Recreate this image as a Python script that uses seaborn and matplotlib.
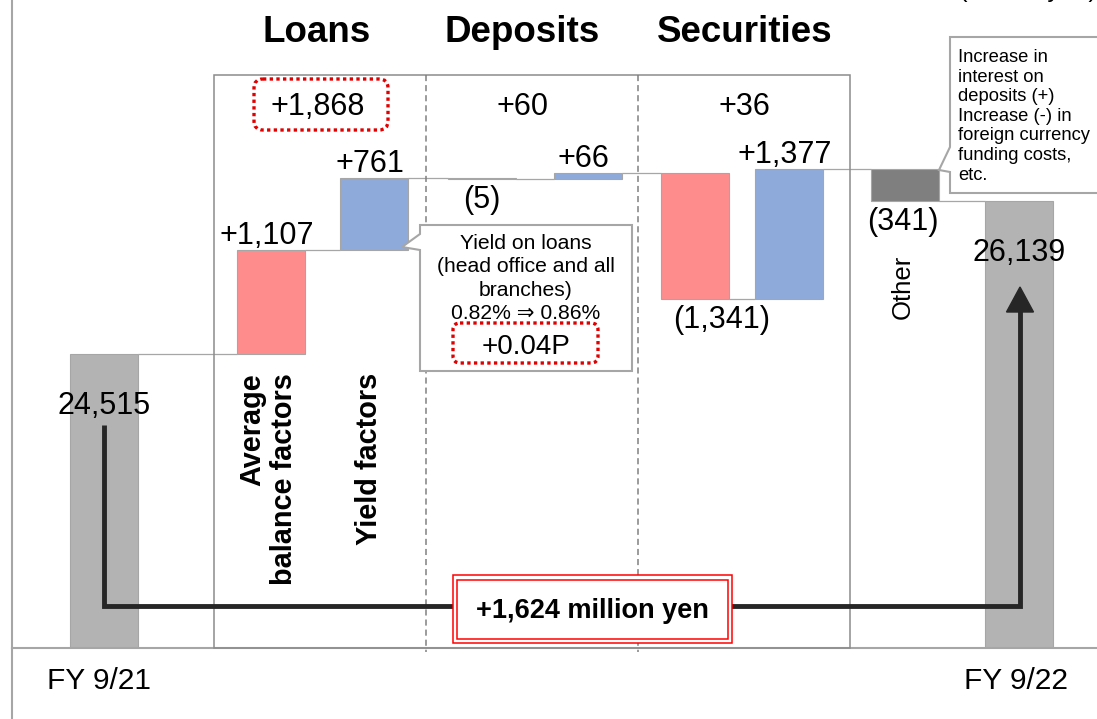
import matplotlib
matplotlib.use("Agg")
import matplotlib.pyplot as plt
from matplotlib.patches import FancyBboxPatch, Rectangle, Polygon
from matplotlib.patches import BoxStyle
from matplotlib.transforms import ScaledTranslation
import seaborn as sns

# ---- data (million yen) ----
groups = ["FY 9/21", "Loans", "Loans", "Deposits", "Deposits",
          "Securities", "Securities", "Other", "FY 9/22"]
factors = ["Total", "Average balance", "Yield", "Average balance", "Yield",
           "Average balance", "Yield", "Other", "Total"]
amounts = [24515, 1107, 761, -5, 66, -1341, 1377, -341, 26139]

sections = ["Loans", "Deposits", "Securities"]
section_totals = [1868, 60, 36]
total_change = 1624
loan_yield_before = 0.82
loan_yield_after = 0.86
yield_change_pt = 0.04

other_note = ["Increase in", "interest on", "deposits (+)", "Increase (-) in",
              "foreign currency", "funding costs,", "etc."]

# ---- styling / layout ----
sns.set_theme(style="white")
plt.rcParams["font.family"] = ["Liberation Sans", "DejaVu Sans"]
plt.rcParams["text.color"] = "black"
plt.rcParams["xtick.color"] = "black"

W, H = 1097, 719
BASE_PX = 648            # pixel row of the baseline
PX_PER_UNIT = 0.094      # vertical pixels per million yen
Y_FLOOR = 21387          # value sitting on the baseline (truncated axis)
bar_px = [104, 271, 373.5, 481.5, 587.5, 695, 788.5, 905, 1019]
BAR_W = 68
label_dx = [0, -4, -4, 0, -4, 27, -4, -2, 0]

palette = {"Total": "#B3B3B3", "Average balance": "#FF8C8C",
           "Yield": "#8EAADB", "Other": "#7F7F7F"}
EDGE = "#A6A6A6"
LINE_GRAY = "#A6A6A6"
FRAME_GRAY = "#8C8C8C"
RED = "#E00000"

fig = plt.figure(figsize=(W / 100, H / 100), dpi=100)
ax = fig.add_axes([12 / W, (H - BASE_PX) / H, (W - 12) / W, BASE_PX / H])

# ---- waterfall geometry from the amounts ----
bottoms, heights, levels = [], [], []
level = 0
for f, v in zip(factors, amounts):
    if f == "Total":
        bottoms.append(0)
        heights.append(v)
        level = v
    else:
        bottoms.append(min(level, level + v))
        heights.append(abs(v))
        level += v
    levels.append(level)

for x, b, h, f in zip(bar_px, bottoms, heights, factors):
    sns.barplot(x=[x], y=[h], bottom=b, native_scale=True, orient="x",
                width=BAR_W, color=palette[f], saturation=1,
                edgecolor=EDGE, linewidth=0.8, errorbar=None, ax=ax, zorder=2)

# connectors between consecutive bars
for i in range(len(bar_px) - 1):
    ax.hlines(levels[i], bar_px[i] + BAR_W / 2, bar_px[i + 1] - BAR_W / 2,
              color=LINE_GRAY, lw=0.9, zorder=1)

ax.set_xlim(12, W)
ax.set_ylim(Y_FLOOR, Y_FLOOR + BASE_PX / PX_PER_UNIT)
ax.set_yticks([])
ax.set_ylabel("")
ax.set_xlabel("")
ax.set_xticks([bar_px[0], bar_px[-1]])
ax.set_xticklabels([groups[0], groups[-1]], fontsize=21.5, color="black")
ax.tick_params(axis="x", length=0, pad=14)
for lab, shift in zip(ax.get_xticklabels(), (-5, -3)):
    lab.set_transform(lab.get_transform()
                      + ScaledTranslation(shift / 100, 0, fig.dpi_scale_trans))
for s in ("top", "right"):
    ax.spines[s].set_visible(False)
for s in ("left", "bottom"):
    ax.spines[s].set_color(LINE_GRAY)
    ax.spines[s].set_linewidth(1.5)


def fmt(v, total):
    if total:
        return f"{v:,}"
    return f"+{v:,}" if v > 0 else f"({abs(v):,})"


# value labels
for i, (x, f, v) in enumerate(zip(bar_px, factors, amounts)):
    total = f == "Total"
    txt = fmt(v, total)
    if total:
        ax.annotate(txt, (x, v), xytext=(label_dx[i], -52),
                    textcoords="offset pixels", ha="center", va="center",
                    fontsize=22, zorder=6)
    elif v > 0:
        top = bottoms[i] + heights[i]
        ax.annotate(txt, (x, top), xytext=(label_dx[i], 6),
                    textcoords="offset pixels", ha="center", va="baseline",
                    fontsize=22, zorder=6)
    else:
        ax.annotate(txt, (x, bottoms[i]), xytext=(label_dx[i], -6),
                    textcoords="offset pixels", ha="center", va="top",
                    fontsize=22, zorder=6)

# ---- overlay in pixel units for frames, notes and the bridge arrow ----
ov = fig.add_axes([0, 0, 1, 1], zorder=5)
ov.set_xlim(0, W)
ov.set_ylim(H, 0)
ov.axis("off")
ov.patch.set_alpha(0)

# left rule continues below the baseline
ov.plot([12, 12], [BASE_PX, H], color=LINE_GRAY, lw=1.5, zorder=1)

# section frame and dividers
ov.add_patch(Rectangle((214, 75), 636, BASE_PX - 75, fill=False,
                       edgecolor=FRAME_GRAY, lw=1.1, zorder=1))
for xd in (426, 638):
    ov.plot([xd, xd], [75, 652], color="#808080", lw=1.1,
            ls=(0, (4, 2.6)), zorder=1)

# section titles and totals
title_x = [316.5, 522, 744.5]
total_x = [318, 522, 744.5]
for name, tx, sx, tot in zip(sections, title_x, total_x, section_totals):
    ov.text(tx, 42, name, ha="center", va="baseline", fontsize=26.5,
            fontweight="bold", zorder=6)
    ov.text(sx, 115, f"+{tot:,}", ha="center", va="baseline", fontsize=22,
            zorder=6)

ov.add_patch(FancyBboxPatch((254, 79), 134, 51,
                            boxstyle=BoxStyle.Round(pad=0, rounding_size=9),
                            fill=False, edgecolor=RED, lw=2.4,
                            ls=(0, (1, 1)), zorder=6))

# factor labels (rotated)
ov.text(252, 373, "Average", rotation=90, ha="center", va="top",
        fontsize=20.8, fontweight="bold", zorder=6)
ov.text(284, 373, "balance factors", rotation=90, ha="center", va="top",
        fontsize=20.8, fontweight="bold", zorder=6)
ov.text(369, 373, "Yield factors", rotation=90, ha="center", va="top",
        fontsize=20.8, fontweight="bold", zorder=6)
ov.text(903, 255, "Other", rotation=90, ha="center", va="top",
        fontsize=18.5, zorder=6)

# loan yield callout
ov.add_patch(Polygon([(420, 225), (632, 225), (632, 371), (420, 371),
                      (420, 250), (402, 247), (420, 234)], closed=True,
                     facecolor="white", edgecolor=LINE_GRAY, lw=1.5, zorder=3))
yield_lines = ["Yield on loans", "(head office and all", "branches)",
               f"{loan_yield_before:.2f}% \u21d2 {loan_yield_after:.2f}%"]
for line, yb in zip(yield_lines, [249, 272.5, 296, 319]):
    ov.text(526, yb, line, ha="center", va="baseline", fontsize=15.2, zorder=6)
ov.add_patch(FancyBboxPatch((453, 323), 145, 40,
                            boxstyle=BoxStyle.Round(pad=0, rounding_size=7),
                            fill=False, edgecolor=RED, lw=2.4,
                            ls=(0, (1, 1)), zorder=6))
ov.text(526, 354, f"+{yield_change_pt:.2f}P", ha="center", va="baseline",
        fontsize=20, zorder=6)

# other callout
ov.add_patch(Polygon([(950, 37), (1110, 37), (1110, 193), (950, 193),
                      (950, 172), (939, 170), (950, 147)], closed=True,
                     facecolor="white", edgecolor=LINE_GRAY, lw=1.5, zorder=3))
for line, yb in zip(other_note, [62, 81.5, 101, 121, 140.5, 160, 180]):
    ov.text(958, yb, line, ha="left", va="baseline", fontsize=13.2, zorder=6)

# bridge arrow between the two fiscal years
ov.plot([104, 104, 1020, 1020], [425, 606, 606, 305], color="#262626",
        lw=3.5, solid_joinstyle="miter", solid_capstyle="butt", zorder=2)
ov.add_patch(Polygon([(1020, 287), (1006.5, 312), (1033.5, 312)],
                     closed=True, color="#262626", zorder=2))

ov.add_patch(Rectangle((453, 575), 279, 68, facecolor="white",
                       edgecolor="#FF0000", lw=1.1, zorder=4))
ov.add_patch(Rectangle((457, 580), 271, 59, fill=False,
                       edgecolor="#FF0000", lw=1.1, zorder=4))
ov.text(592, 618, f"+{total_change:,} million yen", ha="center",
        va="baseline", fontsize=19.5, fontweight="bold", zorder=6)

# unit note running off the top edge
ov.text(959, -3.5, "(Million yen)", ha="left", va="baseline", fontsize=18.4,
        zorder=6)

fig.savefig("out.png", dpi=100)
